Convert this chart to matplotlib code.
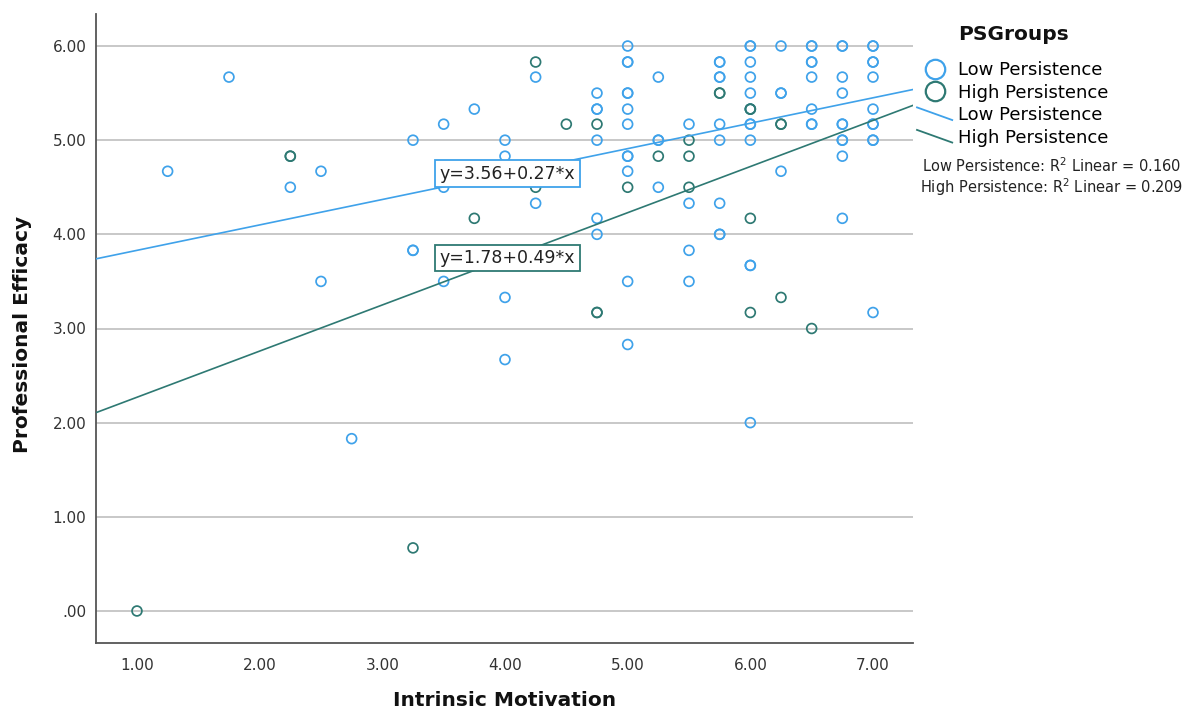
import matplotlib
matplotlib.use("Agg")
import matplotlib.pyplot as plt
from matplotlib.lines import Line2D
from matplotlib.legend_handler import HandlerBase
from matplotlib.ticker import FuncFormatter

# ---- data ----
low_x = [1.25, 1.75, 2.25, 2.5, 2.5, 2.75,
         3.25, 3.25, 3.25, 3.5, 3.5, 3.5, 3.75,
         4.0, 4.0, 4.0, 4.0, 4.25, 4.25,
         4.75, 4.75, 4.75, 4.75, 4.75, 4.75,
         5.0, 5.0, 5.0, 5.0, 5.0, 5.0, 5.0, 5.0, 5.0, 5.0, 5.0, 5.0,
         5.25, 5.25, 5.25, 5.25,
         5.5, 5.5, 5.5, 5.5,
         5.75, 5.75, 5.75, 5.75, 5.75, 5.75, 5.75, 5.75, 5.75,
         6.0, 6.0, 6.0, 6.0, 6.0, 6.0, 6.0, 6.0, 6.0, 6.0, 6.0, 6.0,
         6.25, 6.25, 6.25, 6.25,
         6.5, 6.5, 6.5, 6.5, 6.5, 6.5, 6.5, 6.5,
         6.75, 6.75, 6.75, 6.75, 6.75, 6.75, 6.75, 6.75, 6.75, 6.75,
         7.0, 7.0, 7.0, 7.0, 7.0, 7.0, 7.0, 7.0, 7.0, 7.0, 7.0]
low_y = [4.67, 5.67, 4.50, 4.67, 3.50, 1.83,
         5.00, 3.83, 3.83, 5.17, 4.50, 3.50, 5.33,
         5.00, 4.83, 3.33, 2.67, 5.67, 4.33,
         5.50, 5.33, 5.33, 5.00, 4.17, 4.00,
         6.00, 5.83, 5.83, 5.50, 5.50, 5.33, 5.17, 4.83, 4.83, 4.67, 3.50, 2.83,
         5.67, 5.00, 5.00, 4.50,
         5.17, 4.33, 3.83, 3.50,
         5.83, 5.83, 5.67, 5.67, 5.17, 5.00, 4.33, 4.00, 4.00,
         6.00, 6.00, 5.83, 5.67, 5.50, 5.33, 5.17, 5.17, 5.00, 3.67, 3.67, 2.00,
         6.00, 5.50, 5.50, 4.67,
         6.00, 6.00, 5.83, 5.83, 5.67, 5.33, 5.17, 5.17,
         6.00, 6.00, 5.67, 5.50, 5.17, 5.17, 5.00, 5.00, 4.83, 4.17,
         6.00, 6.00, 5.83, 5.83, 5.67, 5.33, 5.17, 5.17, 5.00, 5.00, 3.17]

high_x = [1.0, 2.25, 2.25, 3.25, 3.75, 4.25, 4.25, 4.5,
          4.75, 4.75, 4.75, 5.0, 5.25, 5.5, 5.5, 5.5,
          5.75, 5.75, 6.0, 6.0, 6.0, 6.0, 6.25, 6.25, 6.25, 6.5]
high_y = [0.00, 4.83, 4.83, 0.67, 4.17, 5.83, 4.50, 5.17,
          5.17, 3.17, 3.17, 4.50, 4.83, 5.00, 4.83, 4.50,
          5.50, 5.50, 5.33, 5.33, 4.17, 3.17, 5.17, 5.17, 3.33, 3.00]

groups = ["Low Persistence", "High Persistence"]
intercepts = [3.56, 1.78]
slopes = [0.27, 0.49]
r2_values = [0.160, 0.209]

x_ticks = [1, 2, 3, 4, 5, 6, 7]
y_ticks = [0, 1, 2, 3, 4, 5, 6]

# ---- styling ----
LOW_C = "#3fa2ea"
HIGH_C = "#2e7973"
colors = [LOW_C, HIGH_C]

plt.rcParams["font.family"] = ["DejaVu Sans"]

fig = plt.figure(figsize=(11.96, 7.11), dpi=100)
ax = fig.add_axes([96 / 1196, 1 - 643 / 711, (913 - 96) / 1196, (643 - 14) / 711])

xmin, xmax = 0.666, 7.326
ax.set_xlim(xmin, xmax)
ax.set_ylim(-0.34, 6.34)

ax.set_yticks(y_ticks)
ax.set_xticks(x_ticks)
fmt = FuncFormatter(lambda v, p: (f"{v:.2f}"[1:] if abs(v) < 1e-9 else f"{v:.2f}"))
ax.yaxis.set_major_formatter(fmt)
ax.xaxis.set_major_formatter(FuncFormatter(lambda v, p: f"{v:.2f}"))
ax.tick_params(axis="both", length=0, labelsize=11, colors="#333333")
ax.tick_params(axis="y", pad=7)
ax.tick_params(axis="x", pad=11)

ax.grid(axis="y", color="#c8c8c8", linewidth=1.4, zorder=0)
ax.set_axisbelow(True)
for s in ["top", "right"]:
    ax.spines[s].set_visible(False)
for s in ["left", "bottom"]:
    ax.spines[s].set_color("#555555")
    ax.spines[s].set_linewidth(1.3)

ax.scatter(low_x, low_y, s=50, facecolors="none", edgecolors=LOW_C,
           linewidths=1.25, zorder=3)
ax.scatter(high_x, high_y, s=50, facecolors="none", edgecolors=HIGH_C,
           linewidths=1.25, zorder=3)

# regression lines across full width, with labels
for b0, b1, c in zip(intercepts, slopes, colors):
    ax.plot([xmin, xmax], [b0 + b1 * xmin, b0 + b1 * xmax], color=c,
            linewidth=1.2, zorder=4)
    xl = 4.02
    ax.text(xl, b0 + b1 * xl, f"y={b0:.2f}+{b1:.2f}*x", ha="center", va="center",
            fontsize=12.5, color="#222222", zorder=6,
            bbox=dict(boxstyle="square,pad=0.25", facecolor="white",
                      edgecolor=c, linewidth=1.3))

ax.set_xlabel("Intrinsic Motivation", fontsize=14.5, fontweight="bold", color="#111111")
ax.set_ylabel("Professional Efficacy", fontsize=14.5, fontweight="bold", color="#111111")
ax.xaxis.set_label_coords(0.5, -0.092)
ax.yaxis.set_label_coords(-0.09, 0.49)
ax.xaxis.label.set_va("center")
ax.yaxis.label.set_va("center")


# ---- legend ----
class SlantHandler(HandlerBase):
    def create_artists(self, legend, orig_handle, xdescent, ydescent, width,
                       height, fontsize, trans):
        l = Line2D([-xdescent, -xdescent + width],
                   [height * 1.0 - ydescent, 0.0 * height - ydescent],
                   color=orig_handle.get_color(), linewidth=1.3, transform=trans)
        return [l]


class LineHandle:
    def __init__(self, c):
        self.c = c

    def get_color(self):
        return self.c


marker_handles = [Line2D([], [], marker="o", linestyle="none", markersize=14,
                         markerfacecolor="none", markeredgecolor=c,
                         markeredgewidth=1.6) for c in colors]
line_handles = [LineHandle(c) for c in colors]

fig.text(1014 / 1196, 1 - 35 / 711, "PSGroups", ha="center", va="center",
         fontsize=14.5, fontweight="bold", color="#111111")

leg = fig.legend(marker_handles + line_handles, groups + groups,
                 handler_map={LineHandle: SlantHandler()},
                 loc="upper left", bbox_to_anchor=(917 / 1196, 1 - 61 / 711),
                 frameon=False, fontsize=13,
                 handlelength=1.95, handletextpad=0.3, labelspacing=0.25,
                 borderpad=0, borderaxespad=0)

for i, (g, r2) in enumerate(zip(groups, r2_values)):
    fig.text(1052 / 1196, 1 - (166 + 21 * i) / 711,
             f"{g}: R$^2$ Linear = {r2:.3f}", ha="center", va="center",
             fontsize=10.5, color="#222222")

fig.savefig("out.png", dpi=100)
